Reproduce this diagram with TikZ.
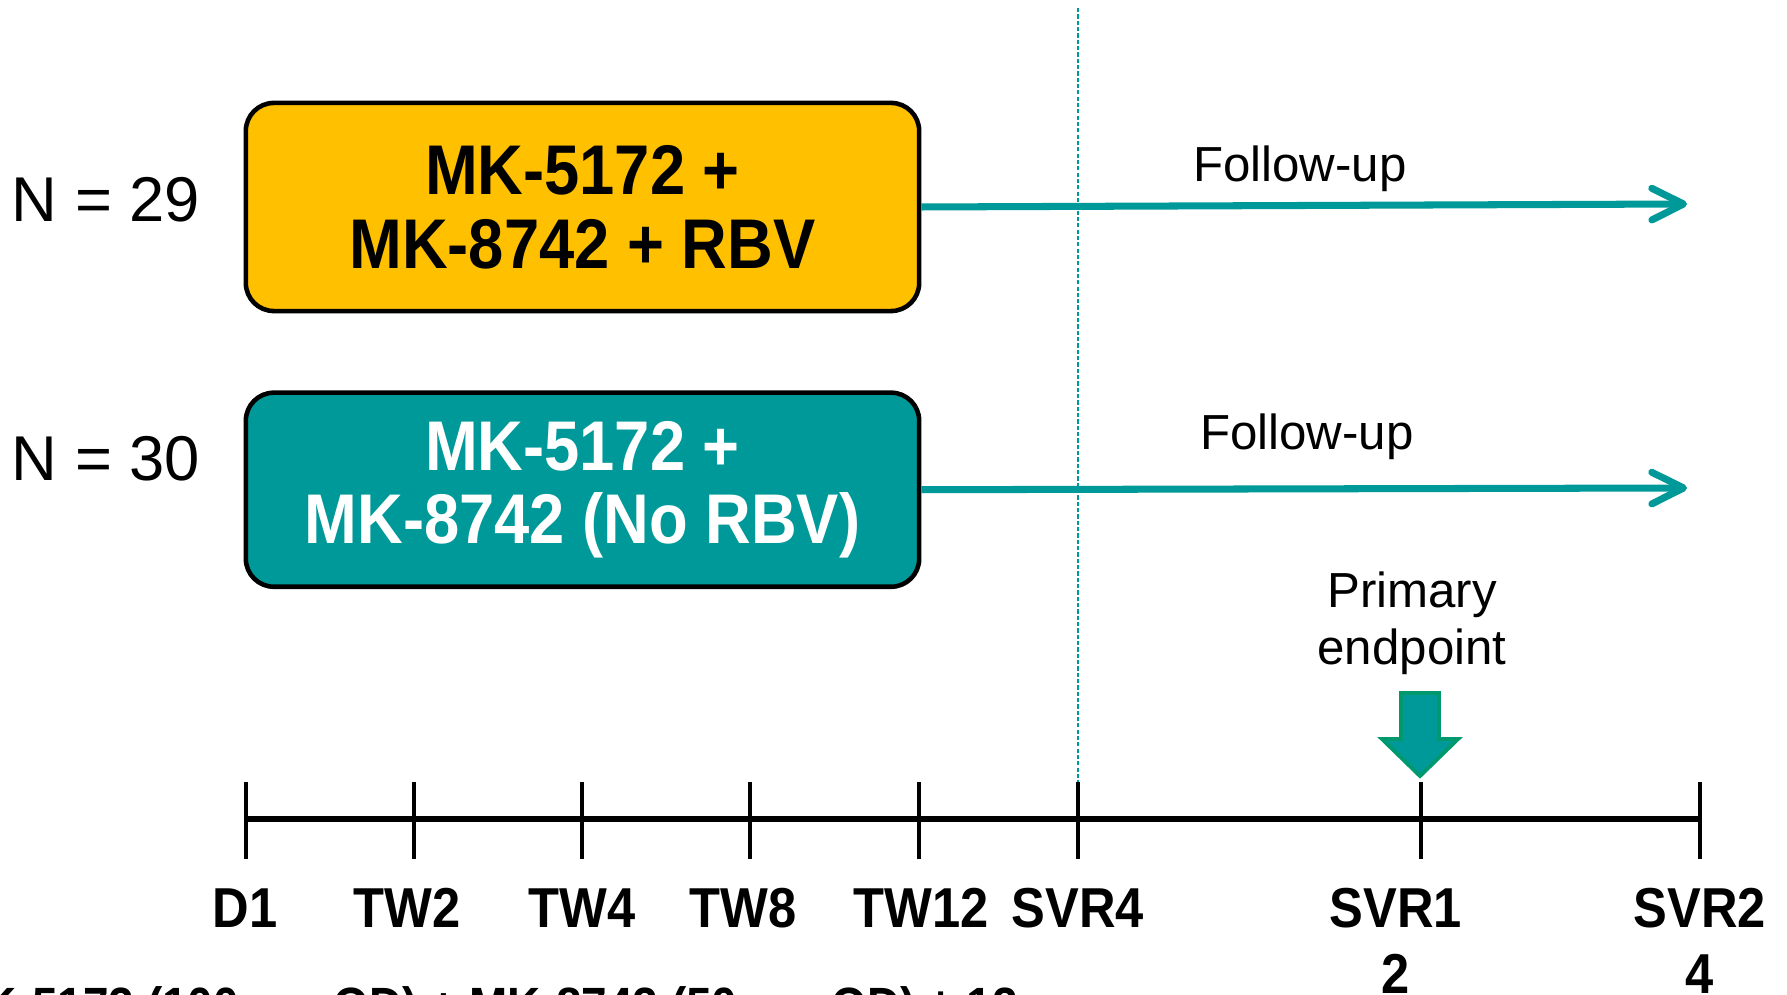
\documentclass[tikz,border=0pt]{standalone}
\usepackage{fontspec}
\setmainfont{Liberation Sans}
\newfontfamily\narrowsans{Liberation Sans}[FakeStretch=0.9]
\usetikzlibrary{positioning,arrows.meta}
\definecolor{armteal}{HTML}{009999}
\definecolor{armgold}{HTML}{FFC000}
\definecolor{endgreen}{HTML}{00996E}

\begin{document}
\begin{tikzpicture}[
  x=0.01cm, y=-0.01cm,
  arm/.style={draw,line width=1.3pt,rounded corners=8pt,minimum width=6.73cm,
    align=center,font=\narrowsans\bfseries\fontsize{20}{21}\selectfont},
  followup/.style={armteal,line width=2pt,-{Straight Barb[length=9pt,width=9pt,round]}},
  cohort/.style={anchor=base,inner sep=0pt,font=\fontsize{18}{20}\selectfont},
  note/.style={inner sep=0pt,align=center,font=\fontsize{14}{16}\selectfont},
  visit/.style={anchor=north,inner sep=0pt,align=center,
    font=\narrowsans\bfseries\fontsize{16}{18.5}\selectfont},
  visittick/.style={line width=1pt}
]
  \useasboundingbox (0,0) rectangle (1787,995);
  \clip (0,0) rectangle (1787,995);

  % treatment arms
  \node[arm,fill=armgold,minimum height=2.08cm] (arm1) at (582.5,207) {MK-5172 +\\MK-8742 + RBV};
  \node[arm,fill=armteal,text=white,minimum height=1.94cm,below=0.77cm of arm1] (arm2) {MK-5172 +\\MK-8742 (No RBV)};
  \node[cohort] (n1) at (106,222) {N = 29};
  \node[cohort] (n2) at (106,481) {N = 30};

  % follow-up
  \coordinate (fu1) at (1687,204);
  \coordinate (fu2) at (1687,488);
  \draw[followup] (arm1.east) -- (fu1);
  \draw[followup] (arm2.east) -- (fu2);
  \node[note,anchor=base] (fulab1) at (1300,182) {Follow-up};
  \node[note,anchor=base] (fulab2) at (1307,450) {Follow-up};

  % timeline
  \foreach \x/\lx/\name/\lab in {246/245/d1/D1, 414/407/tw2/TW2, 582/582/tw4/TW4,
      750/743/tw8/TW8, 919/921/tw12/TW12, 1078/1078/svr4/SVR4,
      1421/1396/svr12/{SVR1\\2}, 1700/1700/svr24/{SVR2\\4}}{
    \coordinate (\name) at (\x,819);
    \coordinate (\name-top) at (\x,782);
    \draw[visittick] (\name-top) -- (\x,859);
    \node[visit] (lab-\name) at (\lx,888) {\lab};
  }
  \draw[line width=1.7pt] (d1) -- (svr24);

  % end of treatment
  \coordinate (eot) at (1078,8);
  \draw[armteal,line width=0.6pt,dash pattern=on 1.2pt off 0.6pt] (eot) -- (svr4-top);

  % primary endpoint
  \node[note,anchor=north,font=\fontsize{14}{16.2}\selectfont] (ep) at (1412,571) {Primary\\endpoint};
  \coordinate (ep-tip) at (1420,776);
  \draw[endgreen,fill=armteal,line width=1.1pt,line join=miter]
    (ep-tip) -- ++(-38,-37) -- ++(19,0) -- ++(0,-46) -- ++(38,0)
    -- ++(0,46) -- ++(19,0) -- cycle;

  \node[anchor=base west,inner sep=0pt,font=\narrowsans\bfseries\fontsize{14.5}{16}\selectfont]
    (regimen) at (-55,1024) {MK-5172 (100 mg QD) + MK-8742 (50 mg QD) ± 12};
\end{tikzpicture}
\end{document}
